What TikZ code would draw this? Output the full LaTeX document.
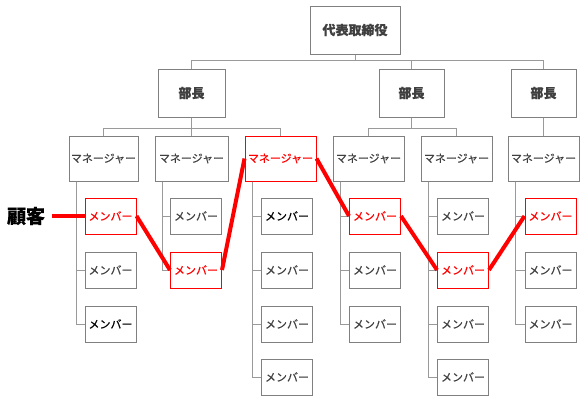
\documentclass[tikz,border=0pt]{standalone}
\usepackage{fontspec}
\newfontfamily\jp[FakeBold=0.4]{Noto Sans CJK JP}
\definecolor{boxgray}{HTML}{808080}
\definecolor{linegray}{HTML}{9A9A9A}
\definecolor{txtgray}{HTML}{404040}
\definecolor{kred}{HTML}{FF0000}
\tikzset{
  box/.style={draw=boxgray, line width=1pt, fill=white, inner sep=0pt, text=txtgray, font=\jp\fontsize{11}{13}\selectfont},
  topbox/.style={box, minimum width=#1, minimum height=48pt, font=\jp\bfseries\fontsize{13}{15}\selectfont},
  mgr/.style={box, minimum width=#1, minimum height=45pt},
  mem/.style={box, minimum width=51pt, minimum height=36pt},
  redbox/.style={draw=kred, text=kred},
  blacktxt/.style={text=black},
  tree/.style={draw=linegray, line width=1pt},
  redpath/.style={draw=kred, line width=4pt},
}
\begin{document}
\begin{tikzpicture}[x=1pt, y=-1pt]
\useasboundingbox (0,0) rectangle (585,402);
% top levels
\node[topbox=90pt] (ceo) at (355,30) {代表取締役};
\node[topbox=67pt] (b1) at (191.5,93) {部長};
\node[topbox=65pt] (b2) at (411.5,93) {部長};
\node[topbox=65pt] (b3) at (543.5,93) {部長};
% managers
\node[mgr=69pt] (m1) at (103.5,158.5) {マネージャー};
\node[mgr=73pt] (m2) at (191.5,158.5) {マネージャー};
\node[mgr=71pt, redbox] (m3) at (280.5,158.5) {マネージャー};
\node[mgr=71pt] (m4) at (368.5,158.5) {マネージャー};
\node[mgr=71pt] (m5) at (456.5,158.5) {マネージャー};
\node[mgr=71pt] (m6) at (543.5,158.5) {マネージャー};
% members
\node[mem, redbox] (m1a) at (110.5,216) {メンバー};
\node[mem] (m1b) at (110.5,270) {メンバー};
\node[mem, blacktxt] (m1c) at (110.5,324) {メンバー};
\node[mem] (m2a) at (196,216) {メンバー};
\node[mem, redbox] (m2b) at (196,270) {メンバー};
\node[mem, blacktxt] (m3a) at (287,216) {メンバー};
\node[mem] (m3b) at (287,270) {メンバー};
\node[mem] (m3c) at (287,324) {メンバー};
\node[mem] (m3d) at (287,377) {メンバー};
\node[mem, redbox] (m4a) at (375,216) {メンバー};
\node[mem] (m4b) at (375,270) {メンバー};
\node[mem] (m4c) at (375,324) {メンバー};
\node[mem] (m5a) at (463,216) {メンバー};
\node[mem, redbox] (m5b) at (463,270) {メンバー};
\node[mem] (m5c) at (463,324) {メンバー};
\node[mem] (m5d) at (463,377) {メンバー};
\node[mem, redbox] (m6a) at (550.5,216) {メンバー};
\node[mem] (m6b) at (550.5,270) {メンバー};
\node[mem] (m6c) at (550.5,324) {メンバー};
% customer
\node[inner sep=4pt, font=\jp\bfseries\fontsize{19}{21}\selectfont] (kk) at (26,216) {顧客};
% tree connectors
\coordinate (bus0) at (355,60.5);
\draw[tree] (ceo.south) -- (bus0) -| (b1.north);
\draw[tree] (bus0) -| (b2.north);
\draw[tree] (bus0) -| (b3.north);
\coordinate (bus1) at (191.5,128);
\draw[tree] (b1.south) -- (bus1) -| (m1.north);
\draw[tree] (bus1) -| (m2.north);
\draw[tree] (bus1) -| (m3.north);
\coordinate (bus2) at (411.5,128);
\draw[tree] (b2.south) -- (bus2) -| (m4.north);
\draw[tree] (bus2) -| (m5.north);
\draw[tree] (b3.south) -- (m6.north);
\foreach \m/\s in {m1/m1a,m1/m1b,m1/m1c,m2/m2a,m2/m2b,m3/m3a,m3/m3b,m3/m3c,m3/m3d,m4/m4a,m4/m4b,m4/m4c,m5/m5a,m5/m5b,m5/m5c,m5/m5d,m6/m6a,m6/m6b,m6/m6c}
  \draw[tree] ([xshift=8pt]\m.south west) |- (\s.west);
% red path
\draw[redpath, shorten <=3pt] (kk.east) -- (m1a.west);
\draw[redpath] (m1a.east) -- (m2b.west);
\draw[redpath] (m2b.east) -- (m3.west);
\draw[redpath] (m3.east) -- (m4a.west);
\draw[redpath] (m4a.east) -- (m5b.west);
\draw[redpath] (m5b.east) -- (m6a.west);
\end{tikzpicture}
\end{document}
